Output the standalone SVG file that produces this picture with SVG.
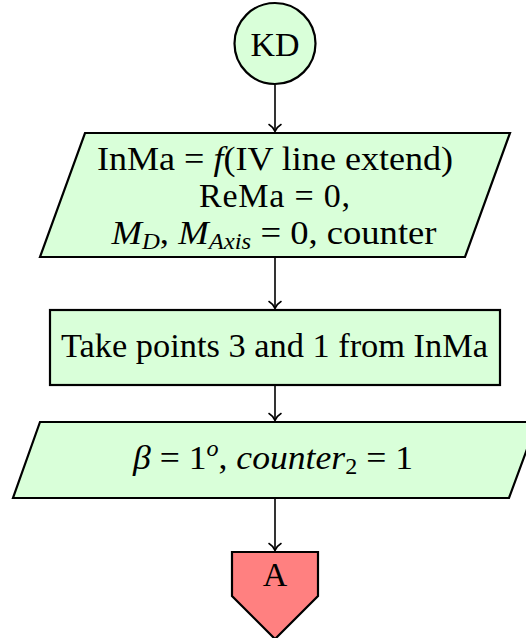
<svg xmlns="http://www.w3.org/2000/svg" width="526" height="638" viewBox="0 0 526 638">
<style>
.node{fill:#d9ffd9;stroke:#000;stroke-width:2.2;stroke-linejoin:miter}
.red{fill:#ff8080;stroke:#000;stroke-width:2.2}
.t{font-family:"Liberation Serif","Times New Roman",serif;font-size:34px;fill:#000;text-anchor:middle}
.i{font-style:italic}
.sub{font-size:23px}
.conn{stroke:#000;stroke-width:1.6;fill:none}
</style>
<defs>
<marker id="arr" markerUnits="userSpaceOnUse" viewBox="-9 -8 11 16" markerWidth="11" markerHeight="16" refX="0" refY="0" orient="auto">
<path d="M-7,-6 C-5,-2.5 -1.5,-0.6 0,0 C-1.5,0.6 -5,2.5 -7,6" fill="none" stroke="#000" stroke-width="1.6" stroke-linecap="round"/>
</marker>
</defs>
<rect width="526" height="638" fill="#fff"/>
<g id="connectors">
<line class="conn" x1="275" y1="85" x2="275" y2="131.5" marker-end="url(#arr)"/>
<line class="conn" x1="275" y1="258" x2="275" y2="308.5" marker-end="url(#arr)"/>
<line class="conn" x1="275" y1="386" x2="275" y2="420.5" marker-end="url(#arr)"/>
<line class="conn" x1="275" y1="499" x2="275" y2="550.5" marker-end="url(#arr)"/>
</g>
<g id="kd">
<circle class="node" cx="275" cy="43.5" r="40.5"/>
<text class="t" x="275" y="56">KD</text>
</g>
<g id="init">
<polygon class="node" points="85,133 510,133 465,257 40,257"/>
<text class="t" x="275" y="170" textLength="356" lengthAdjust="spacingAndGlyphs">InMa = <tspan class="i">f</tspan>(IV line extend)</text>
<text class="t" x="274.5" y="207" textLength="151" lengthAdjust="spacing">ReMa = 0,</text>
<text class="t" x="274" y="244" textLength="325" lengthAdjust="spacingAndGlyphs"><tspan class="i">M</tspan><tspan class="i sub" dy="5">D</tspan><tspan dy="-5">, </tspan><tspan class="i">M</tspan><tspan class="i sub" dy="5">Axis</tspan><tspan dy="-5"> = 0, counter</tspan></text>
</g>
<g id="take">
<rect class="node" x="50" y="310" width="450" height="75"/>
<text class="t" x="274.5" y="357" textLength="427" lengthAdjust="spacingAndGlyphs">Take points 3 and 1 from InMa</text>
</g>
<g id="beta">
<polygon class="node" points="40,422 537,422 509,498 13,498"/>
<text class="t" x="273" y="469" textLength="280" lengthAdjust="spacingAndGlyphs"><tspan class="i">β</tspan> = 1<tspan class="i sub" dy="-13">o</tspan><tspan dy="13">, </tspan><tspan class="i">counter</tspan><tspan class="sub" dy="5">2</tspan><tspan dy="-5"> = 1</tspan></text>
</g>
<g id="a">
<polygon class="red" points="232,552 318,552 318,596 275,639 232,596"/>
<text class="t" x="275" y="586">A</text>
</g>
</svg>
